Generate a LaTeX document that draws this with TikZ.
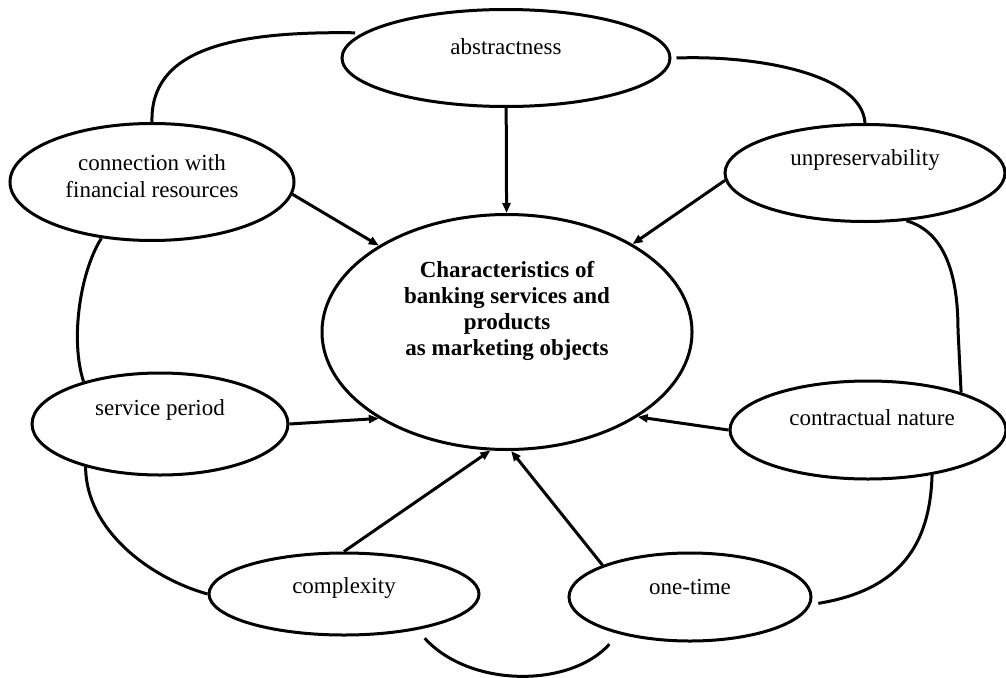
\documentclass[tikz,border=0pt]{standalone}
\usepackage{fontspec}
\setmainfont{Liberation Serif}
\usetikzlibrary{shapes.geometric, arrows.meta}

\begin{document}
\begin{tikzpicture}[
    x=1pt, y=-1pt,
    font=\fontsize{23}{27}\selectfont,
    trait/.style={ellipse, draw, line width=3pt, inner sep=0pt, fill=white},
    feed/.style={-{Triangle[length=10pt, width=8pt]}, line width=3pt},
    link/.style={line width=3pt}
]
    \useasboundingbox (0,0) rectangle (1006,677);

    % Centre
    \node[trait, minimum width=370pt, minimum height=235pt,
          label={[align=center, font=\fontsize{23}{26}\selectfont\bfseries, yshift=21pt]center:Characteristics of\\banking services and\\products\\as marketing objects}] (core) at (507,332) {};

    % Characteristics round it
    \node[trait, minimum width=328pt, minimum height=97pt,
          label={[yshift=11pt]center:abstractness}] (abstract) at (506,58) {};
    \node[trait, minimum width=284pt, minimum height=117pt,
          label={[align=center, yshift=6pt]center:connection with\\financial resources}] (connect) at (152,182) {};
    \node[trait, minimum width=280pt, minimum height=97pt,
          label={[yshift=13pt]center:unpreservability}] (unpres) at (865,173) {};
    \node[trait, minimum width=256pt, minimum height=102pt,
          label={[yshift=14pt]center:service period}] (period) at (160,424) {};
    \node[trait, minimum width=276pt, minimum height=98pt,
          label={[xshift=4pt, yshift=12pt]center:contractual nature}] (contract) at (868,430) {};
    \node[trait, minimum width=270pt, minimum height=82pt,
          label={[yshift=6pt]center:complexity}] (complex) at (344,594) {};
    \node[trait, minimum width=242pt, minimum height=88pt,
          label={[yshift=10pt]center:one-time}] (onetime) at (690,597) {};

    % Ring of links
    \draw[link] ([xshift=-8pt]abstract.170) .. controls (230,31) and (150,50) .. (connect.north);
    \draw[link] (connect.228) .. controls (80,272) and (70,340) .. (period.151);
    \draw[link] (period.210) .. controls (86,530) and (150,578) .. (complex.west);
    \draw[link] ([yshift=-10pt]complex.-23) .. controls (470,688) and (570,688) .. ([yshift=-13pt]onetime.203);
    \draw[link] ([xshift=7pt]onetime.-3) .. controls (900,590) and (930,545) .. (contract.-35);
    \draw[link] (contract.22) -- (958,330) .. controls (958,275) and (945,232) .. (unpres.-49);
    \draw[link] (unpres.north) .. controls (862,75) and (760,55) .. ([xshift=5pt]abstract.east);

    % Arrows
    \draw[feed] (abstract) -- (core);
    \draw[feed] (connect.-5) -- (core.146);
    \draw[feed] (unpres.183) -- (core.35);
    \draw[feed] (period.east) -- (core.214);
    \draw[feed] (contract.west) -- (core.-33);
    \draw[feed] (complex.north) -- (core.262);
    \draw[feed] (onetime.160) -- (core.272);
\end{tikzpicture}
\end{document}
